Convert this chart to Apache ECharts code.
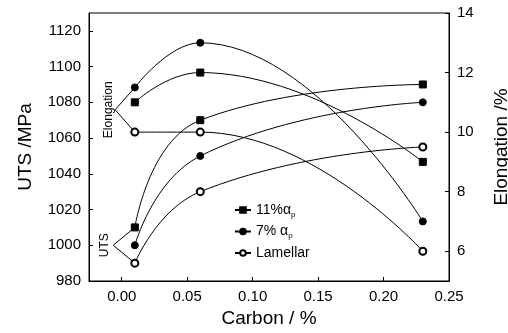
<!DOCTYPE html>
<html>
<head>
<meta charset="utf-8">
<script src="https://cdn.jsdelivr.net/npm/echarts@6/dist/echarts.min.js"></script>
<style>
  html, body { margin: 0; padding: 0; background: #fff; }
  #chart { width: 508px; height: 333px; }
</style>
</head>
<body>
<div id="chart"></div>
<script>
// carbon content of the three alloys
const carbon = [0.01, 0.06, 0.23]

// UTS (MPa), left axis
const uts11 = [1010, 1070, 1090]
const uts7 = [1000, 1050, 1080]
const utsLam = [990, 1030, 1055]

// elongation (%), right axis
const elong11 = [11, 12, 9]
const elong7 = [11.5, 13, 7]
const elongLam = [10, 10, 6]

// bracket marks next to the first points
const elongBracket = [[0.01, 11.5], [-0.005, 10.75], [0.01, 10]]
const utsBracket = [[0.01, 1010], [-0.0065, 1000], [0.01, 990]]

const font = 'Liberation Sans'
const pair = (ys) => carbon.map((x, i) => [x, ys[i]])

const legendText = {
  '11%ap': '11%{g|α}{s|p}',
  '7%ap': '7% {g|α}{s|p}',
  'Lamellar': 'Lamellar'
}

const curve = (name, data, yAxisIndex, symbol) => ({
  name: name,
  type: 'line',
  yAxisIndex: yAxisIndex,
  data: data,
  smooth: 0.5,
  symbol: symbol,
  symbolSize: 7,
  showAllSymbol: true,
  lineStyle: { color: '#000', width: 1 },
  itemStyle: { color: '#000', borderColor: '#000', borderWidth: 1 },
  emphasis: { disabled: true },
  z: 3
})

const bracket = (data, yAxisIndex, text, dy) => ({
  type: 'line',
  yAxisIndex: yAxisIndex,
  data: data,
  symbol: 'none',
  silent: true,
  lineStyle: { color: '#000', width: 1 },
  markPoint: {
    symbol: 'circle',
    symbolSize: 0,
    silent: true,
    data: [{
      coord: data[1],
      label: {
        show: true,
        formatter: text,
        position: 'left',
        distance: 2,
        rotate: 90,
        align: 'center',
        verticalAlign: 'middle',
        offset: [0, dy],
        fontFamily: font,
        fontSize: 12,
        color: '#000'
      }
    }]
  },
  z: 2
})

const chart = echarts.init(document.getElementById('chart'))

const axisLineStyle = { show: true, onZero: false, lineStyle: { color: '#000', width: 1 } }

const options = {
  animation: false,
  backgroundColor: '#fff',
  grid: {
    left: 89, right: 59, top: 13, bottom: 52,
    outerBoundsMode: 'none',
    containLabel: false,
    show: true, borderColor: '#000', borderWidth: 1
  },
  legend: {
    orient: 'vertical',
    left: 229,
    top: 198,
    itemGap: 6,
    itemWidth: 16,
    itemHeight: 7,
    data: ['11%ap', '7%ap', 'Lamellar'],
    formatter: (name) => legendText[name],
    textStyle: {
      fontFamily: font,
      fontSize: 14,
      color: '#000',
      rich: {
        g: { fontFamily: font, fontSize: 14, color: '#000' },
        s: { fontFamily: font, fontSize: 8, color: '#000', padding: [9, 0, 0, 0] }
      }
    }
  },
  xAxis: {
    type: 'value',
    min: -0.025,
    max: 0.25,
    splitNumber: 5,
    name: 'Carbon / %',
    nameLocation: 'middle',
    nameGap: 28,
    nameTextStyle: { fontFamily: font, fontSize: 19, color: '#000' },
    axisLine: axisLineStyle,
    axisTick: { inside: true, length: 4, lineStyle: { color: '#000' } },
    axisLabel: {
      showMinLabel: false,
      fontFamily: font, fontSize: 15, color: '#000', margin: 8,
      formatter: (v) => v.toFixed(2)
    },
    splitLine: { show: false }
  },
  yAxis: [
    {
      type: 'value',
      min: 980,
      max: 1130,
      interval: 20,
      name: 'UTS /MPa',
      nameLocation: 'middle',
      nameGap: 54,
      nameTextStyle: { fontFamily: font, fontSize: 19, color: '#000' },
      axisLine: axisLineStyle,
      axisTick: { inside: true, length: 4, lineStyle: { color: '#000' } },
      axisLabel: {
        showMaxLabel: false, fontFamily: font, fontSize: 15, color: '#000', margin: 8,
        formatter: (v) => String(v)
      },
      splitLine: { show: false }
    },
    {
      type: 'value',
      min: 5,
      max: 14,
      splitNumber: 5,
      position: 'right',
      name: 'Elongation /%',
      nameLocation: 'middle',
      nameGap: 43,
      nameTextStyle: { fontFamily: font, fontSize: 19, color: '#000' },
      axisLine: axisLineStyle,
      axisTick: { inside: true, length: 4, lineStyle: { color: '#000' } },
      axisLabel: { showMinLabel: false, fontFamily: font, fontSize: 15, color: '#000', margin: 8 },
      splitLine: { show: false }
    }
  ],
  series: [
    curve('11%ap', pair(uts11), 0, 'rect'),
    curve('7%ap', pair(uts7), 0, 'circle'),
    curve('Lamellar', pair(utsLam), 0, 'emptyCircle'),
    curve('11%ap', pair(elong11), 1, 'rect'),
    curve('7%ap', pair(elong7), 1, 'circle'),
    curve('Lamellar', pair(elongLam), 1, 'emptyCircle'),
    bracket(elongBracket, 1, 'Elongation', -4),
    bracket(utsBracket, 0, 'UTS', -7)
  ]
}

chart.setOption(options)
</script>
</body>
</html>
